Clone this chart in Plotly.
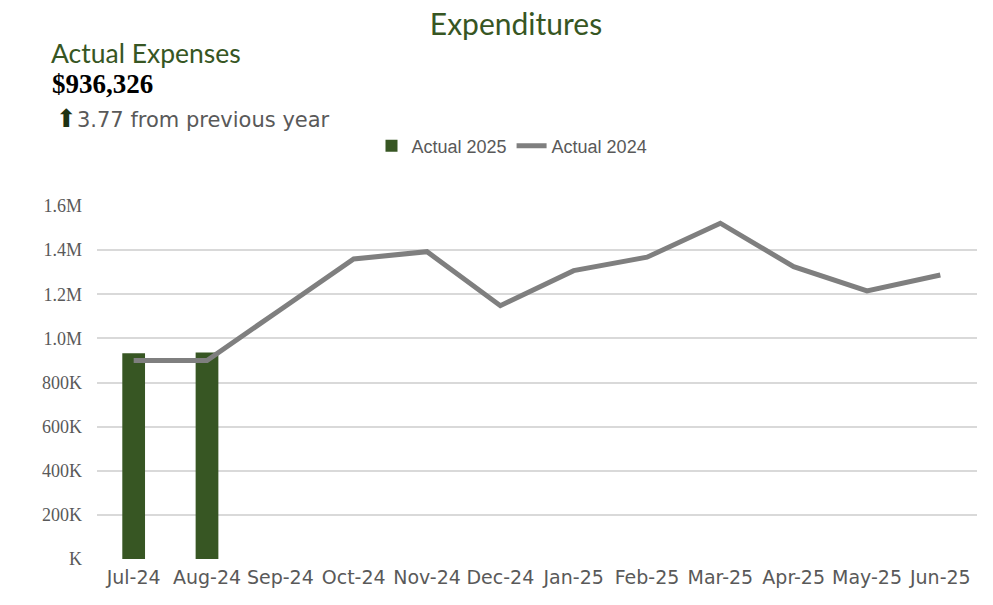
import plotly.graph_objects as go

months = ["Jul-24", "Aug-24", "Sep-24", "Oct-24", "Nov-24", "Dec-24",
          "Jan-25", "Feb-25", "Mar-25", "Apr-25", "May-25", "Jun-25"]
actual_2025 = [933000, 936326]
actual_2024 = [900000, 900000, 1130000, 1360000, 1393000, 1148000,
               1307000, 1368000, 1522000, 1325000, 1215000, 1287000]
y_tick_vals = [0, 200000, 400000, 600000, 800000, 1000000, 1200000, 1400000, 1600000]
y_tick_text = ["K", "200K", "400K", "600K", "800K", "1.0M", "1.2M", "1.4M", "1.6M"]

GREEN = "#375623"
GRAY_LINE = "#7f7f7f"
TEXT_GRAY = "#595959"

W, H = 993, 605
L, R, T, B = 97, 16, 206, 46
PW, PH = W - L - R, H - T - B


def px(x):
    return (x - L) / PW


def py(y):
    return (H - B - y) / PH


fig = go.Figure()
fig.add_trace(go.Bar(x=months[:len(actual_2025)], y=actual_2025, name="Actual 2025",
                     marker=dict(color=GREEN, line=dict(width=0)), width=0.31))
fig.add_trace(go.Scatter(x=months, y=actual_2024, name="Actual 2024", mode="lines",
                         line=dict(color=GRAY_LINE, width=5)))

fig.update_layout(
    width=W, height=H,
    margin=dict(l=L, r=R, t=T, b=B),
    paper_bgcolor="white", plot_bgcolor="white",
    title=dict(text="Expenditures", x=516 / W, xref="container", xanchor="center",
               y=1 - 24 / H, yref="container", yanchor="middle",
               font=dict(family="Lato", size=30, color=GREEN)),
    legend=dict(orientation="h", x=px(512), xanchor="center", y=py(146), yanchor="middle",
                font=dict(family="Liberation Sans", size=18, color=TEXT_GRAY),
                traceorder="normal", bgcolor="rgba(0,0,0,0)"),
    xaxis=dict(categoryorder="array", categoryarray=months, range=[-0.5, 11.5],
               tickfont=dict(family="DejaVu Sans", size=19, color=TEXT_GRAY),
               showgrid=False, showline=False, ticks="", ticklabelstandoff=5),
    yaxis=dict(range=[0, 1600000], tickvals=y_tick_vals, ticktext=y_tick_text,
               tickfont=dict(family="Liberation Serif", size=18, color=TEXT_GRAY),
               showgrid=True, gridcolor="#d9d9d9", gridwidth=1.5, zeroline=False,
               showline=False, ticks="", ticklabelstandoff=14),
)

fig.add_annotation(text="Actual Expenses", xref="paper", yref="paper", x=px(49), y=py(53),
                   xanchor="left", yanchor="middle", showarrow=False,
                   font=dict(family="Lato", size=26.5, color=GREEN))
fig.add_annotation(text="<b>$936,326</b>", xref="paper", yref="paper", x=px(50), y=py(84),
                   xanchor="left", yanchor="middle", showarrow=False,
                   font=dict(family="Liberation Serif", size=27, color="black"))
fig.add_annotation(text="<span style='color:#1e3312;font-size:25px'>⬆</span>3.77 from previous year",
                   xref="paper", yref="paper", x=px(54), y=py(119),
                   xanchor="left", yanchor="middle", showarrow=False,
                   font=dict(family="DejaVu Sans", size=21, color=TEXT_GRAY))

fig.write_html("out.html")
